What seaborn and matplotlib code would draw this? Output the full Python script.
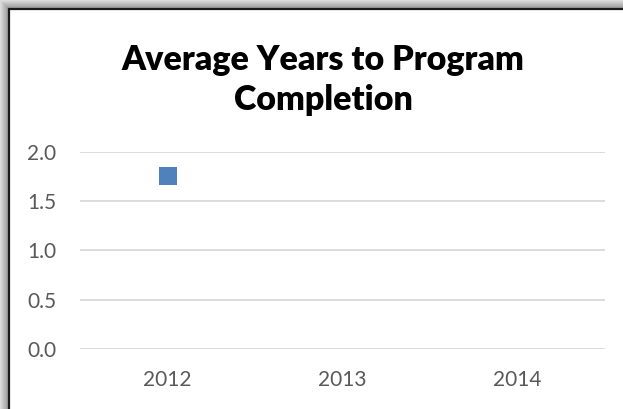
import numpy as np
import pandas as pd
import matplotlib
matplotlib.use('Agg')
import matplotlib.pyplot as plt
import seaborn as sns

# ---- data ----
years = ['2012', '2013', '2014']
avg_years = [1.75, np.nan, np.nan]
y_ticks = [0.0, 0.5, 1.0, 1.5, 2.0]
title = 'Average Years to Program\nCompletion'

df = pd.DataFrame({'year': years, 'avg': avg_years})

sns.set_style('white')
plt.rcParams['font.family'] = ['Lato', 'DejaVu Sans']

W, H = 623, 409
fig = plt.figure(figsize=(W / 100, H / 100), dpi=100)
fig.patch.set_facecolor('white')

# frame with soft shadow (Excel-like chart border), drawn in pixel space
bg = fig.add_axes([0, 0, 1, 1], zorder=-5)
bg.set_xlim(0, W)
bg.set_ylim(H, 0)
bg.axis('off')
shade = np.linspace(0.86, 0.62, 8)
for i, g in enumerate(shade):
    bg.fill_between([i, W], i, i + 1, color=(g, g, g), linewidth=0)      # top band
    bg.fill_betweenx([i, H], i, i + 1, color=(g, g, g), linewidth=0)     # left band
bg.plot([8.5, 8.5, W], [H, 8.5, 8.5], color='#1a1a1a', linewidth=1.6,
        solid_joinstyle='miter')
# keep the right-hand margin clean (chart area continues past the crop)
bg.fill_between([607, W + 5], 11, H + 5, color='white', linewidth=0, zorder=5)

# main plot
ax = fig.add_axes([80 / W, 1 - 349 / H, 525 / W, (349 - 151.7) / H])
ax.patch.set_alpha(0)
sns.stripplot(data=df, x='year', y='avg', order=years, jitter=False, marker='s',
              size=12.5, color='#4F81BD', linewidth=0, ax=ax, zorder=3)

ax.set_xlim(-0.5, 2.5)
ax.set_ylim(0, 2.0)
ax.set_yticks(y_ticks)
ax.set_yticklabels([f'{v:.1f}' for v in y_ticks])
ax.yaxis.grid(True, color='#D9D9D9', linewidth=1.3)
ax.set_axisbelow(True)
for s in ax.spines.values():
    s.set_visible(False)
ax.tick_params(axis='both', length=0, labelsize=15, colors='#595959')
ax.tick_params(axis='y', pad=17)
ax.tick_params(axis='x', pad=15)
ax.set_xlabel('')
ax.set_ylabel('')

fig.text(323 / W, 1 - 80 / H, title, ha='center', va='center', fontsize=24.5,
         fontweight='heavy', color='black', linespacing=1.3)

fig.savefig('out.png', dpi=100)
